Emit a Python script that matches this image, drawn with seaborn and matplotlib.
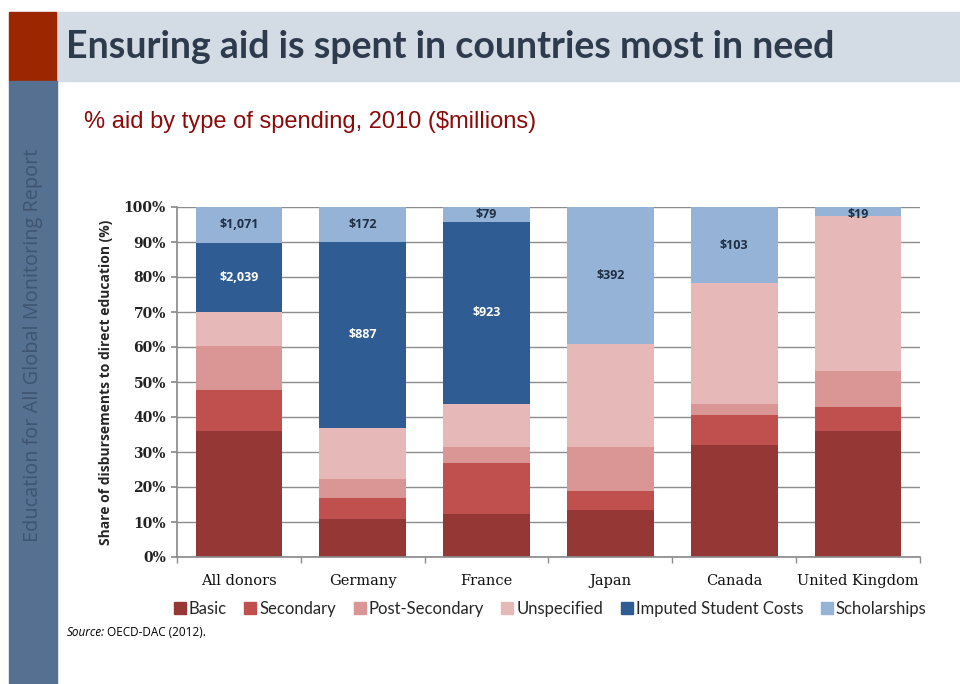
import matplotlib
matplotlib.use("Agg")
import matplotlib.pyplot as plt
from matplotlib.patches import Rectangle
from matplotlib.lines import Line2D
import seaborn as sns
import pandas as pd
import numpy as np

countries = ["All donors", "Germany", "France", "Japan", "Canada", "United Kingdom"]
categories = ["Basic", "Secondary", "Post-Secondary", "Unspecified",
              "Imputed Student Costs", "Scholarships"]
basic = [35.9, 11.0, 12.4, 13.4, 31.9, 35.9]
secondary = [11.9, 5.9, 14.4, 5.5, 8.8, 7.0]
post_secondary = [12.5, 5.4, 4.5, 12.4, 3.1, 10.2]
unspecified = [9.6, 14.5, 12.5, 29.5, 34.4, 44.2]
imputed = [19.9, 53.3, 51.9, 0.0, 0.0, 0.0]
scholarships = [10.2, 9.9, 4.3, 39.2, 21.8, 2.7]
imputed_labels = ["$2,039", "$887", "$923", "", "", ""]
scholarship_labels = ["$1,071", "$172", "$79", "$392", "$103", "$19"]
colors = ["#953735", "#C0504D", "#D99694", "#E6B9B8", "#2F5C92", "#95B3D7"]

series = [basic, secondary, post_secondary, unspecified, imputed, scholarships]

sns.set_theme(style="white")
plt.rcParams['font.family'] = ['DejaVu Sans']

fig = plt.figure(figsize=(9.6, 6.84), dpi=100)
W, H = 960, 684

def fx(x):
    return x / W

def fy(y):
    return 1 - y / H

# Decorations
fig.patches.append(Rectangle((fx(56), fy(81)), fx(960 - 56), (81 - 12) / H,
                             transform=fig.transFigure, color="#D3DBE4", zorder=0))
fig.patches.append(Rectangle((fx(9), fy(81)), fx(47), (81 - 12) / H,
                             transform=fig.transFigure, color="#9B2600", zorder=0))
fig.patches.append(Rectangle((fx(9), 0), fx(48), fy(81),
                             transform=fig.transFigure, color="#557090", zorder=0))

fig.text(fx(66), fy(47), "Ensuring aid is spent in countries most in need",
         fontsize=27, fontweight="bold", color="#2D3B4C", family="Lato",
         va="center", ha="left")
fig.text(fx(33), fy(345), "Education for All Global Monitoring Report",
         fontsize=14.3, color="#3F5470", family="Open Sans", rotation=90,
         va="center", ha="center")
fig.text(fx(84), fy(122), "% aid by type of spending, 2010 ($millions)",
         fontsize=17, color="#8B0A0A", family="Liberation Sans",
         va="center", ha="left")
fig.text(fx(67), fy(632), "Source:", fontsize=8.5, style="italic",
         family="Open Sans", va="center", ha="left", color="black")
fig.text(fx(107), fy(632), "OECD-DAC (2012).", fontsize=8.5,
         family="Open Sans", va="center", ha="left", color="black")

ax = fig.add_axes([fx(177), fy(557), fx(920 - 177), (557 - 207) / H])

cum = np.cumsum(np.array(series), axis=0)
df = pd.DataFrame({"country": countries})
for i in range(len(categories) - 1, -1, -1):
    df["v"] = cum[i]
    sns.barplot(data=df, x="country", y="v", color=colors[i], saturation=1,
                width=0.7, ax=ax, zorder=2, order=countries, linewidth=0,
                edgecolor=colors[i])

# labels
for j in range(len(countries)):
    if imputed_labels[j]:
        y = cum[3][j] + imputed[j] / 2
        ax.text(j, y, imputed_labels[j], ha="center", va="center",
                color="white", fontsize=9, fontweight="bold", family="Open Sans", zorder=5)
    y = cum[4][j] + scholarships[j] / 2
    if scholarships[j] < 5:
        y = 100 - 2.2
    ax.text(j, y, scholarship_labels[j], ha="center", va="center",
            color="#1F2F44", fontsize=9, fontweight="bold", family="Open Sans", zorder=5)

ax.set_ylim(0, 100)
ax.set_xlim(-0.5, 5.5)
ax.set_yticks(np.arange(0, 101, 10))
ax.set_yticklabels([f"{v}%" for v in range(0, 101, 10)],
                   fontsize=10, fontweight="bold", family="DejaVu Serif")
ax.set_axisbelow(True)
ax.yaxis.grid(True, color="#8C8C8C", linewidth=1)
ax.xaxis.grid(False)
for s in ["top", "right"]:
    ax.spines[s].set_visible(False)
ax.spines["left"].set_color("#8C8C8C")
ax.spines["bottom"].set_color("#8C8C8C")
ax.set_xlabel("")
ax.set_ylabel("Share of disbursements to direct education (%)",
              fontsize=10, fontweight="bold", family="Open Sans", labelpad=8)
ax.tick_params(axis="y", left=True, length=4, color="#8C8C8C", pad=4, labelcolor="#222222")
ax.set_xticks(range(len(countries)))
ax.set_xticklabels(countries, fontsize=10.5, family="DejaVu Serif", color="#111111")
ax.tick_params(axis="x", bottom=False, pad=6)
ax.set_xticks(np.arange(-0.5, 6, 1), minor=True)
ax.tick_params(axis="x", which="minor", bottom=True, length=4, color="#8C8C8C")

handles = [Line2D([0], [0], marker="s", linestyle="", markersize=8,
                  markerfacecolor=c, markeredgecolor=c) for c in colors]
fig.legend(handles, categories, loc="center", bbox_to_anchor=(fx(549), fy(609)),
           ncol=6, frameon=False, prop={"family": "Lato", "size": 12},
           handletextpad=0.05, columnspacing=0.9, handlelength=1.0)

fig.savefig("out.png", dpi=100)
